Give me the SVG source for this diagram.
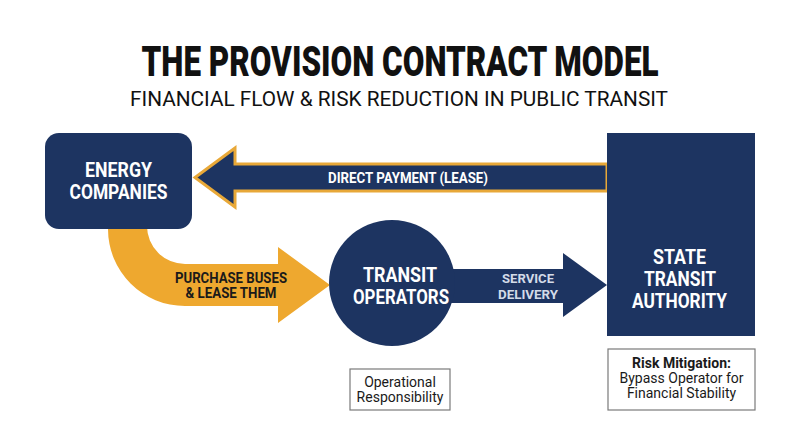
<svg xmlns="http://www.w3.org/2000/svg" width="800" height="447" viewBox="0 0 800 447">
<style>
.navy{fill:#1d3461}
.t{font-family:Roboto,"Liberation Sans",sans-serif;font-weight:700;fill:#ffffff;text-anchor:middle}
.lbl{font-family:Roboto,"Liberation Sans",sans-serif;font-weight:700;text-anchor:middle}
.note{font-family:Roboto,"Liberation Sans",sans-serif;font-size:14px;fill:#1a1a1a;text-anchor:middle}
.box{fill:#ffffff;stroke:#7a7a7a;stroke-width:1.2}
</style>
<rect width="800" height="447" fill="#ffffff"/>
<g id="title">
<text x="400" y="76" font-family="Roboto,'Liberation Sans',sans-serif" font-weight="900" font-size="42" fill="#111" text-anchor="middle" textLength="517" lengthAdjust="spacingAndGlyphs">THE PROVISION CONTRACT MODEL</text>
<text x="399" y="106" font-family="Roboto,'Liberation Sans',sans-serif" font-size="21" fill="#111" text-anchor="middle" textLength="538" lengthAdjust="spacingAndGlyphs">FINANCIAL FLOW &amp; RISK REDUCTION IN PUBLIC TRANSIT</text>
</g>
<g id="connectors">
<g id="direct-payment">
<path d="M607,164 L235,164 L235,148 L195,177.5 L235,207 L235,191 L607,191 Z" class="navy" stroke="#e8a838" stroke-width="3" stroke-linejoin="miter"/>
<text x="408" y="183" class="t" font-size="14" textLength="160" lengthAdjust="spacingAndGlyphs">DIRECT PAYMENT (LEASE)</text>
</g>
<g id="purchase-buses">
<path d="M108,220 L108,229 A77,77 0 0 0 185,306 L278,306 L278,323 L330,285 L278,247 L278,264 L185,264 A38,38 0 0 1 147,226 L147,220 Z" fill="#eea82f"/>
<text x="231" y="283" class="lbl" font-size="14" fill="#1a1a1a" textLength="112" lengthAdjust="spacingAndGlyphs">PURCHASE BUSES</text>
<text x="231" y="298" class="lbl" font-size="14" fill="#1a1a1a" textLength="91" lengthAdjust="spacingAndGlyphs">&amp; LEASE THEM</text>
</g>
<g id="service-delivery">
<path d="M440,269 L563,269 L563,253 L607,285 L563,317 L563,303 L440,303 Z" class="navy"/>
<text x="528" y="283" class="lbl" font-size="13.5" fill="#d3dbe8" textLength="52" lengthAdjust="spacingAndGlyphs">SERVICE</text>
<text x="528" y="299" class="lbl" font-size="13.5" fill="#d3dbe8" textLength="60" lengthAdjust="spacingAndGlyphs">DELIVERY</text>
</g>
</g>
<g id="energy-companies">
<rect x="45" y="133" width="147" height="96" rx="14" class="navy"/>
<text x="118.5" y="177" class="t" font-size="20" textLength="67" lengthAdjust="spacingAndGlyphs">ENERGY</text>
<text x="118.5" y="199" class="t" font-size="20" textLength="98" lengthAdjust="spacingAndGlyphs">COMPANIES</text>
</g>
<g id="transit-operators">
<circle cx="392" cy="283" r="63" class="navy"/>
<text x="400" y="282" class="t" font-size="20" textLength="74" lengthAdjust="spacingAndGlyphs">TRANSIT</text>
<text x="401" y="304" class="t" font-size="20" textLength="96" lengthAdjust="spacingAndGlyphs">OPERATORS</text>
</g>
<g id="state-transit-authority">
<rect x="607" y="133" width="148" height="203" class="navy"/>
<text x="679.5" y="264" class="t" font-size="20" textLength="53" lengthAdjust="spacingAndGlyphs">STATE</text>
<text x="680" y="286" class="t" font-size="20" textLength="72" lengthAdjust="spacingAndGlyphs">TRANSIT</text>
<text x="679.5" y="308" class="t" font-size="20" textLength="95" lengthAdjust="spacingAndGlyphs">AUTHORITY</text>
</g>
<g id="operational-responsibility">
<rect x="350" y="369" width="100" height="41" class="box"/>
<text x="400" y="387" class="note">Operational</text>
<text x="400" y="402" class="note">Responsibility</text>
</g>
<g id="risk-mitigation">
<rect x="608" y="349" width="147" height="61" class="box"/>
<text x="681.5" y="368" class="note" font-weight="700">Risk Mitigation:</text>
<text x="681.5" y="383" class="note">Bypass Operator for</text>
<text x="681.5" y="398" class="note">Financial Stability</text>
</g>
</svg>
